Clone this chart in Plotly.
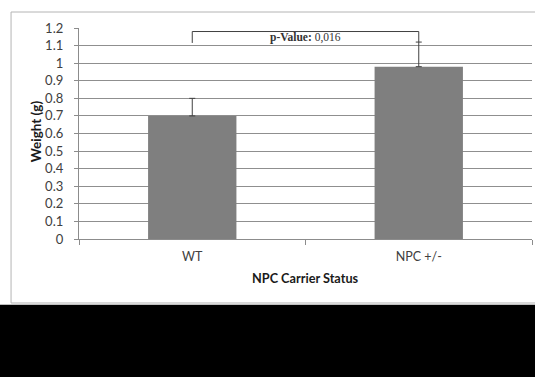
import plotly.graph_objects as go

# Mean body weight by NPC carrier status
categories = ["WT", "NPC +/-"]
weights = [0.70, 0.98]
errors_up = [0.10, 0.14]
p_value_label = "0,016"

fig = go.Figure()
fig.add_trace(go.Bar(
    x=categories,
    y=weights,
    width=0.39,
    marker=dict(color="#7f7f7f", line=dict(width=0)),
    error_y=dict(type="data", symmetric=False, array=errors_up,
                 arrayminus=[0] * len(errors_up),
                 color="#404040", thickness=1, width=3),
    showlegend=False,
))

# significance bracket between the two groups
fig.add_shape(type="path", xref="x", yref="y",
              path="M 0,1.115 L 0,1.18 L 1,1.18 L 1,1.12",
              line=dict(color="#404040", width=1))
fig.add_annotation(x=0.5, y=1.148, xref="x", yref="y", showarrow=False,
                   xanchor="center", yanchor="middle",
                   text=f"<b>p-Value:</b> {p_value_label}",
                   font=dict(family="Liberation Serif", size=11.5, color="#333333"))

# axis titles
fig.add_annotation(x=0.5, y=-0.185, xref="paper", yref="paper", showarrow=False,
                   xanchor="center", yanchor="middle",
                   text="<b>NPC Carrier Status</b>",
                   font=dict(family="Lato", size=12.7, color="#1a1a1a"))
fig.add_annotation(x=-0.095, y=0.51, xref="paper", yref="paper", showarrow=False,
                   xanchor="center", yanchor="middle",
                   text="<b>Weight (g)</b>", textangle=-90,
                   font=dict(family="Lato", size=13.5, color="#1a1a1a"))

# chart frame and the dark band beneath it
fig.add_shape(type="rect", xref="paper", yref="paper",
              x0=-0.150, x1=1.03, y0=-0.3033, y1=1.0758,
              line=dict(color="#b4b4b4", width=1), fillcolor="rgba(0,0,0,0)",
              layer="below")
fig.add_shape(type="rect", xref="paper", yref="paper",
              x0=-0.2, x1=1.05, y0=-0.70, y1=-0.312,
              line=dict(width=0), fillcolor="#000000", layer="above")

fig.update_layout(
    width=535, height=377,
    margin=dict(l=79, r=3, t=28, b=138),
    paper_bgcolor="white", plot_bgcolor="white",
    font=dict(family="Lato", size=12, color="#404040"),
    bargap=0.61,
)
fig.update_xaxes(
    type="category", range=[-0.5, 1.5],
    showline=True, linecolor="#8c8c8c", linewidth=1,
    ticks="outside", tickson="boundaries", ticklen=5, tickcolor="#8c8c8c",
    ticklabelstandoff=6,
    showgrid=False, tickfont=dict(size=12.5, color="#404040"),
)
fig.update_yaxes(
    range=[0, 1.2], dtick=0.1, tick0=0,
    showline=True, linecolor="#8c8c8c", linewidth=1,
    ticks="outside", ticklen=4, tickcolor="#8c8c8c",
    ticksuffix="\u2002\u2009",
    showgrid=True, gridcolor="#8f8f8f", gridwidth=1,
    zeroline=False, tickfont=dict(size=13, color="#404040"),
)

fig.write_html("out.html")
